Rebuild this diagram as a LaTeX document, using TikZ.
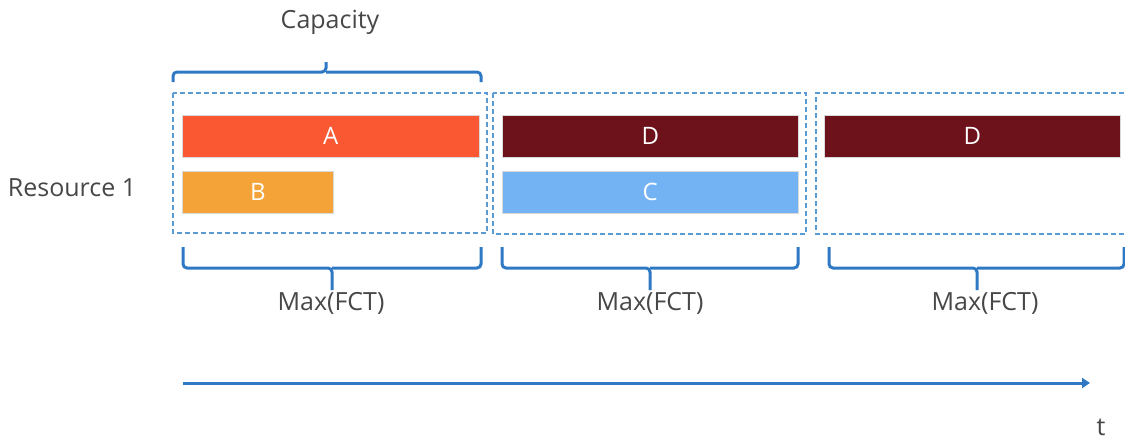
\documentclass[tikz,border=0pt]{standalone}
\usepackage{fontspec}
\setmainfont{Open Sans}
\usetikzlibrary{arrows.meta}
\definecolor{bracecol}{HTML}{2F78C4}
\definecolor{dashcol}{HTML}{5B9BD5}
\definecolor{colA}{HTML}{F95833}
\definecolor{colB}{HTML}{F4A338}
\definecolor{colC}{HTML}{74B3F3}
\definecolor{colD}{HTML}{6D121A}
\definecolor{txt}{HTML}{474747}
\tikzset{
  bar/.style={draw=white!85!black, line width=0.6pt, text=white, inner sep=0pt, anchor=north west, font=\fontsize{24}{28}\selectfont},
  slot/.style={draw=dashcol, line width=1.5pt, dash pattern=on 5pt off 3pt},
  brace/.style={draw=bracecol, line width=3pt, rounded corners=4pt},
  label/.style={text=txt, font=\fontsize{25}{30}\selectfont, inner sep=0pt},
}
\begin{document}
\begin{tikzpicture}[x=1pt,y=-1pt]
\useasboundingbox (0,0) rectangle (1125,439);
% dashed slots
\draw[slot] (173,93) rectangle (487,233);
\draw[slot] (493,93) rectangle (806,234);
\draw[slot] (1140,234) -- (816,234) -- (816,93) -- (1140,93);
% bars
\node[bar, fill=colA, minimum width=297pt, minimum height=42pt] (A) at (182,115) {A};
\node[bar, fill=colB, minimum width=151pt, minimum height=42pt] (B) at (182,171) {B};
\node[bar, fill=colD, minimum width=296pt, minimum height=42pt] (D1) at (502,115) {D};
\node[bar, fill=colC, minimum width=296pt, minimum height=42pt] (C) at (502,171) {C};
\node[bar, fill=colD, minimum width=296pt, minimum height=42pt] (D2) at (824,115) {D};
% labels
\node[label] (res) at (72,188) {Resource 1};
\node[label] (cap) at (330,22) {Capacity};
\node[label] (m1) at (331,303) {Max(FCT)};
\node[label] (m2) at (650,303) {Max(FCT)};
\node[label] (m3) at (985,303) {Max(FCT)};
\node[label, anchor=base] (t) at (1101,435) {t};
% capacity brace
\draw[brace] (173,82) |- (326,72) -- (326,62);
\draw[brace] (481,82) |- (326,72);
% bottom braces
\draw[brace] (183,247) |- (332,268) -- (332,290);
\draw[brace] (481,247) |- (332,268);
\draw[brace] (502,247) |- (650,268) -- (650,290);
\draw[brace] (798,247) |- (650,268);
\draw[brace] (829,247) |- (977,268) -- (977,290);
\draw[brace] (1124,247) |- (977,268);
% time axis
\coordinate (t0) at (183,383);
\coordinate (t1) at (1090,383);
\draw[draw=bracecol, line width=3pt, -{Triangle[length=8pt,width=10pt]}] (t0) -- (t1);
\end{tikzpicture}
\end{document}
